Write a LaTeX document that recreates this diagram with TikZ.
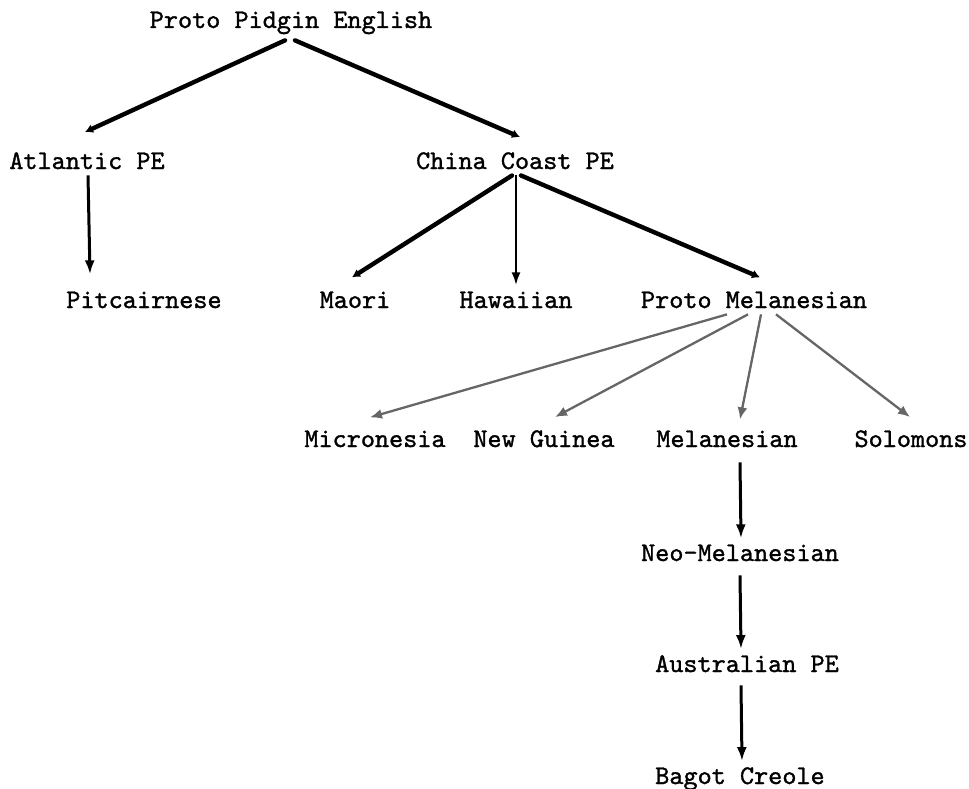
\documentclass[tikz,border=0pt]{standalone}
\usepackage{fontspec}
\newfontfamily\langfont[FakeBold=1.2]{lmmono10-regular.otf}
\usetikzlibrary{arrows.meta}
\tikzset{
  lang/.style={font=\langfont\fontsize{26.9}{30}\selectfont, text=black, anchor=base, inner xsep=2pt, inner ysep=6pt},
  heavy/.style={-{Latex[length=8pt,width=9pt]}, line width=4.4pt, line cap=round},
  plain/.style={-{Latex[length=13pt,width=9pt]}, line width=2.4pt},
  grey/.style={-{Latex[length=12pt,width=10pt]}, line width=2.3pt, draw=black!60},
  descent/.style={-{Latex[length=14pt,width=10pt]}, line width=3pt},
}
\begin{document}
\begin{tikzpicture}[x=1pt,y=-1pt]
  \fill[white] (0,0) rectangle (969,789);
  \useasboundingbox (0,0) rectangle (969,789);

  \node[lang] (ppe) at (291,28) {Proto Pidgin English};
  \node[lang] (atl) at (87,169) {Atlantic PE};
  \node[lang] (ccpe) at (515,169) {China Coast PE};
  \node[lang] (pit) at (144,308) {Pitcairnese};
  \node[lang] (mao) at (355,308) {Maori};
  \node[lang] (haw) at (516,308) {Hawaiian};
  \node[lang] (pmel) at (754,308) {Proto Melanesian};
  \node[lang] (mic) at (375,447) {Micronesia};
  \node[lang] (ng) at (544,447) {New Guinea};
  \node[lang] (mel) at (727,447) {Melanesian};
  \node[lang] (sol) at (911,447) {Solomons};
  \node[lang] (neo) at (740,561) {Neo-Melanesian};
  \node[lang] (aus) at (747,672) {Australian PE};
  \node[lang] (bag) at (740,784) {Bagot Creole};

  \draw[heavy] ([xshift=-6pt]ppe.south) -- ([xshift=-2pt,yshift=14pt]atl.north);
  \draw[heavy] ([xshift=4pt]ppe.south) -- ([xshift=5pt,yshift=9pt]ccpe.north);
  \draw[descent] ([xshift=1pt]atl.south) -- ([xshift=-54pt,yshift=11pt]pit.north);

  \draw[heavy] ([xshift=-3pt]ccpe.south) -- ([xshift=-3pt,yshift=8pt]mao.north);
  \draw[plain] ([xshift=1pt]ccpe.south) -- (haw.north);
  \draw[heavy] ([xshift=6pt]ccpe.south) -- ([xshift=6pt,yshift=8pt]pmel.north);

  % grey branches of Proto Melanesian
  \draw[grey] ([xshift=-27pt]pmel.south) -- ([xshift=-5pt,yshift=7pt]mic.north);
  \draw[grey] ([xshift=-6pt]pmel.south) -- ([xshift=11pt,yshift=7pt]ng.north);
  \draw[grey] ([xshift=7pt]pmel.south) -- ([xshift=13pt,yshift=5pt]mel.north);
  \draw[grey] ([xshift=22pt]pmel.south) -- ([xshift=-1pt,yshift=7pt]sol.north);

  \draw[descent] ([xshift=13pt,yshift=-9pt]mel.south) -- ([xshift=1pt]neo.north);
  \draw[descent] ([yshift=-8pt]neo.south) -- ([xshift=-6pt]aus.north);
  \draw[descent] ([xshift=-6pt,yshift=-7pt]aus.south) -- ([xshift=2pt]bag.north);
\end{tikzpicture}
\end{document}
